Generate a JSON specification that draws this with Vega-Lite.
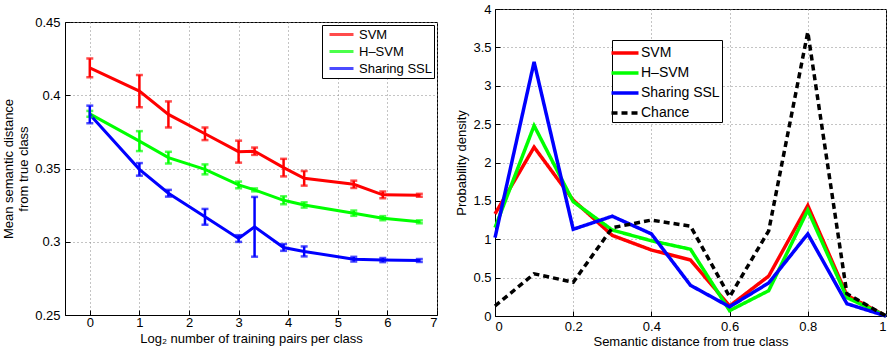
{
  "$schema": "https://vega.github.io/schema/vega-lite/v6.json",
  "padding": {"left": 2, "top": 2, "right": 3, "bottom": 3},
  "config": {
    "font": "Liberation Sans",
    "view": {"stroke": "black", "strokeWidth": 1},
    "axis": {"labelFont": "Liberation Sans", "labelFontSize": 13, "labelColor": "black", "titleFont": "Liberation Sans", "titleFontSize": 13, "titleFontWeight": "normal", "titleColor": "black", "titleLineHeight": 15, "domainColor": "black", "tickColor": "black", "tickSize": -5, "labelPadding": 9, "gridColor": "#888888", "gridDash": [1, 3], "gridWidth": 1, "gridOpacity": 1},
    "axisY": {"titlePadding": 4},
    "legend": {"labelFont": "Liberation Sans", "labelColor": "black"}
  },
  "resolve": {"scale": {"color": "independent", "strokeDash": "independent"}, "legend": {"color": "independent", "strokeDash": "independent"}},
  "spacing": 17,
  "hconcat": [
    {
      "vconcat": [
        {"width": 372, "height": 13, "data": {"values": []}, "mark": "point", "view": {"stroke": null}},
        {
          "width": 372,
          "height": 293,
          "data": {"values": [
            {"x": 0, "method": "SVM", "y": 0.4187, "lo": 0.4123, "hi": 0.4251},
            {"x": 1, "method": "SVM", "y": 0.4028, "lo": 0.3918, "hi": 0.4138},
            {"x": 1.585, "method": "SVM", "y": 0.3869, "lo": 0.378, "hi": 0.3958},
            {"x": 2.322, "method": "SVM", "y": 0.3737, "lo": 0.3694, "hi": 0.378},
            {"x": 3, "method": "SVM", "y": 0.3615, "lo": 0.354, "hi": 0.369},
            {"x": 3.322, "method": "SVM", "y": 0.3618, "lo": 0.3593, "hi": 0.3643},
            {"x": 3.907, "method": "SVM", "y": 0.3506, "lo": 0.3446, "hi": 0.3566},
            {"x": 4.322, "method": "SVM", "y": 0.3433, "lo": 0.3383, "hi": 0.3483},
            {"x": 5.322, "method": "SVM", "y": 0.3392, "lo": 0.3367, "hi": 0.3417},
            {"x": 5.907, "method": "SVM", "y": 0.332, "lo": 0.3297, "hi": 0.3343},
            {"x": 6.644, "method": "SVM", "y": 0.3317, "lo": 0.3307, "hi": 0.3327},
            {"x": 0, "method": "H–SVM", "y": 0.3873, "lo": 0.3853, "hi": 0.3893},
            {"x": 1, "method": "H–SVM", "y": 0.3687, "lo": 0.3619, "hi": 0.3755},
            {"x": 1.585, "method": "H–SVM", "y": 0.3574, "lo": 0.3534, "hi": 0.3614},
            {"x": 2.322, "method": "H–SVM", "y": 0.3494, "lo": 0.346, "hi": 0.3528},
            {"x": 3, "method": "H–SVM", "y": 0.3388, "lo": 0.3365, "hi": 0.3411},
            {"x": 3.322, "method": "H–SVM", "y": 0.3354, "lo": 0.3344, "hi": 0.3364},
            {"x": 3.907, "method": "H–SVM", "y": 0.3283, "lo": 0.3256, "hi": 0.331},
            {"x": 4.322, "method": "H–SVM", "y": 0.3251, "lo": 0.3233, "hi": 0.3269},
            {"x": 5.322, "method": "H–SVM", "y": 0.3195, "lo": 0.3177, "hi": 0.3213},
            {"x": 5.907, "method": "H–SVM", "y": 0.3161, "lo": 0.3147, "hi": 0.3175},
            {"x": 6.644, "method": "H–SVM", "y": 0.3136, "lo": 0.3126, "hi": 0.3146},
            {"x": 0, "method": "Sharing SSL", "y": 0.3869, "lo": 0.3809, "hi": 0.3929},
            {"x": 1, "method": "Sharing SSL", "y": 0.3494, "lo": 0.3451, "hi": 0.3537},
            {"x": 1.585, "method": "Sharing SSL", "y": 0.3331, "lo": 0.3308, "hi": 0.3354},
            {"x": 2.322, "method": "Sharing SSL", "y": 0.317, "lo": 0.3116, "hi": 0.3224},
            {"x": 3, "method": "Sharing SSL", "y": 0.3022, "lo": 0.2999, "hi": 0.3045},
            {"x": 3.322, "method": "Sharing SSL", "y": 0.3102, "lo": 0.2898, "hi": 0.3306},
            {"x": 3.907, "method": "Sharing SSL", "y": 0.2961, "lo": 0.2938, "hi": 0.2984},
            {"x": 4.322, "method": "Sharing SSL", "y": 0.2934, "lo": 0.29, "hi": 0.2968},
            {"x": 5.322, "method": "Sharing SSL", "y": 0.2881, "lo": 0.2865, "hi": 0.2897},
            {"x": 5.907, "method": "Sharing SSL", "y": 0.2875, "lo": 0.2861, "hi": 0.2889},
            {"x": 6.644, "method": "Sharing SSL", "y": 0.2872, "lo": 0.2862, "hi": 0.2882}
          ]},
          "encoding": {
            "x": {"field": "x", "type": "quantitative", "scale": {"domain": [-0.5, 7], "nice": false, "zero": false}, "axis": {"values": [0, 1, 2, 3, 4, 5, 6, 7], "format": "d", "title": "Log₂ number of training pairs per class", "labelPadding": 6, "titlePadding": 3}},
            "color": {"field": "method", "type": "nominal", "sort": null, "scale": {"domain": ["SVM", "H–SVM", "Sharing SSL"], "range": ["#ff0000", "#00ff00", "#0000ff"]},
              "legend": {"orient": "none", "legendX": 257, "legendY": 16, "title": null, "symbolType": "M-2,0H2", "symbolSize": 144, "symbolOffset": 10, "symbolStrokeWidth": 3, "labelFontSize": 13, "strokeColor": "black", "fillColor": "white", "padding": 2, "rowPadding": 2, "labelOffset": 10}}
          },
          "layer": [
            {"mark": {"type": "line", "strokeWidth": 3},
             "encoding": {"y": {"field": "y", "type": "quantitative", "title": ["Mean semantic distance", "from true class"], "scale": {"domain": [0.25, 0.45], "nice": false, "zero": false}, "axis": {"values": [0.25, 0.3, 0.35, 0.4, 0.45], "format": ".2~f", "labelPadding": 10, "title": ["Mean semantic distance", "from true class"]}}}},
            {"mark": {"type": "errorbar", "ticks": {"size": 7, "thickness": 2.5}, "thickness": 2.5},
             "encoding": {"y": {"field": "lo", "type": "quantitative", "title": ["Mean semantic distance", "from true class"], "scale": {"domain": [0.25, 0.45], "nice": false, "zero": false}, "axis": {"values": [0.25, 0.3, 0.35, 0.4, 0.45], "format": ".2~f", "labelPadding": 10, "title": ["Mean semantic distance", "from true class"]}}, "y2": {"field": "hi"}}}
          ]
        }
      ],
      "spacing": 0,
      "bounds": "flush"
    },
    {
      "width": 391,
      "height": 307,
      "data": {"values": [
        {"d": 0, "method": "SVM", "p": 1.33}, {"d": 0.1, "method": "SVM", "p": 2.2}, {"d": 0.2, "method": "SVM", "p": 1.51}, {"d": 0.3, "method": "SVM", "p": 1.05}, {"d": 0.4, "method": "SVM", "p": 0.86}, {"d": 0.5, "method": "SVM", "p": 0.73}, {"d": 0.6, "method": "SVM", "p": 0.13}, {"d": 0.7, "method": "SVM", "p": 0.52}, {"d": 0.8, "method": "SVM", "p": 1.44}, {"d": 0.9, "method": "SVM", "p": 0.27}, {"d": 1, "method": "SVM", "p": 0},
        {"d": 0, "method": "H–SVM", "p": 1.15}, {"d": 0.1, "method": "H–SVM", "p": 2.48}, {"d": 0.2, "method": "H–SVM", "p": 1.49}, {"d": 0.3, "method": "H–SVM", "p": 1.12}, {"d": 0.4, "method": "H–SVM", "p": 0.98}, {"d": 0.5, "method": "H–SVM", "p": 0.87}, {"d": 0.6, "method": "H–SVM", "p": 0.07}, {"d": 0.7, "method": "H–SVM", "p": 0.33}, {"d": 0.8, "method": "H–SVM", "p": 1.38}, {"d": 0.9, "method": "H–SVM", "p": 0.24}, {"d": 1, "method": "H–SVM", "p": 0},
        {"d": 0, "method": "Sharing SSL", "p": 1.02}, {"d": 0.1, "method": "Sharing SSL", "p": 3.31}, {"d": 0.2, "method": "Sharing SSL", "p": 1.13}, {"d": 0.3, "method": "Sharing SSL", "p": 1.3}, {"d": 0.4, "method": "Sharing SSL", "p": 1.07}, {"d": 0.5, "method": "Sharing SSL", "p": 0.4}, {"d": 0.6, "method": "Sharing SSL", "p": 0.12}, {"d": 0.7, "method": "Sharing SSL", "p": 0.43}, {"d": 0.8, "method": "Sharing SSL", "p": 1.07}, {"d": 0.9, "method": "Sharing SSL", "p": 0.16}, {"d": 1, "method": "Sharing SSL", "p": 0},
        {"d": 0, "method": "Chance", "p": 0.13}, {"d": 0.1, "method": "Chance", "p": 0.55}, {"d": 0.2, "method": "Chance", "p": 0.44}, {"d": 0.3, "method": "Chance", "p": 1.15}, {"d": 0.4, "method": "Chance", "p": 1.25}, {"d": 0.5, "method": "Chance", "p": 1.17}, {"d": 0.6, "method": "Chance", "p": 0.25}, {"d": 0.7, "method": "Chance", "p": 1.11}, {"d": 0.8, "method": "Chance", "p": 3.7}, {"d": 0.9, "method": "Chance", "p": 0.29}, {"d": 1, "method": "Chance", "p": 0}
      ]},
      "mark": {"type": "line", "strokeWidth": 3.5},
      "encoding": {
        "x": {"field": "d", "type": "quantitative", "scale": {"domain": [0, 1], "nice": false}, "axis": {"values": [0, 0.2, 0.4, 0.6, 0.8, 1], "format": "~g", "title": "Semantic distance from true class", "titlePadding": 2}},
        "y": {"field": "p", "type": "quantitative", "scale": {"domain": [0, 4], "nice": false}, "axis": {"values": [0, 0.5, 1, 1.5, 2, 2.5, 3, 3.5, 4], "format": "~g", "title": "Probability density"}},
        "color": {"field": "method", "type": "nominal", "sort": null, "scale": {"domain": ["SVM", "H–SVM", "Sharing SSL", "Chance"], "range": ["#ff0000", "#00ff00", "#0000ff", "#000000"]},
          "legend": {"orient": "none", "legendX": 117, "legendY": 31, "title": null, "symbolType": "M-1.5,0H1.5", "symbolSize": 324, "symbolStrokeWidth": 3.5, "labelFontSize": 14, "strokeColor": "black", "fillColor": "white", "padding": 2, "rowPadding": 2, "labelOffset": 5}},
        "strokeDash": {"field": "method", "type": "nominal", "sort": null, "scale": {"domain": ["SVM", "H–SVM", "Sharing SSL", "Chance"], "range": [[1, 0], [1, 0], [1, 0], [6, 4]]},
          "legend": {"orient": "none", "legendX": 117, "legendY": 31, "title": null, "symbolType": "M-1.5,0H1.5", "symbolSize": 324, "symbolStrokeWidth": 3.5, "labelFontSize": 14, "strokeColor": "black", "fillColor": "white", "padding": 2, "rowPadding": 2, "labelOffset": 5}}
      }
    }
  ]
}
